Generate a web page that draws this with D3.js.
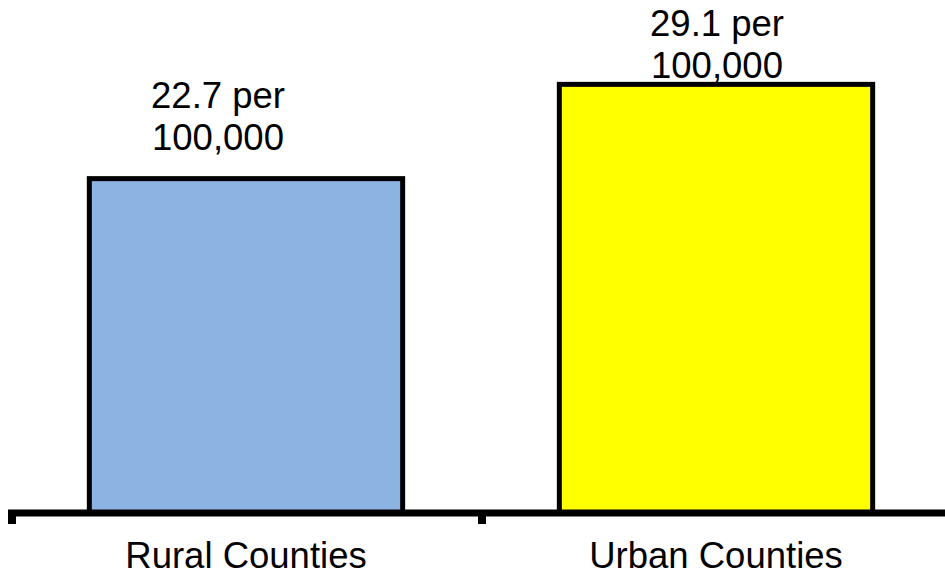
<!DOCTYPE html>
<html>
<head>
<meta charset="utf-8">
<script src="https://cdn.jsdelivr.net/npm/d3@7"></script>
<style>
  html, body { margin: 0; padding: 0; background: #fff; }
  svg { display: block; }
  text { font-family: "Liberation Sans", Arial, sans-serif; fill: #000; }
</style>
</head>
<body>
<script>
// ---- data ----
const categories = ["Rural Counties", "Urban Counties"];
const values = [22.7, 29.1];
const labelLine1 = ["22.7 per", "29.1 per"];
const labelLine2 = ["100,000", "100,000"];
const barColors = ["#8DB3E2", "#FFFF00"];

// ---- layout ----
const W = 945, H = 580;
const baseY = 513;
const labelShiftX = [-29, 0];
const fs = 36.5;

const svg = d3.select("body").append("svg").attr("width", W).attr("height", H);

const x = d3.scaleBand().domain(categories).range([12, 952]).paddingInner(0).paddingOuter(0);
const y = d3.scaleLinear().domain([0, 35]).range([baseY, baseY - 35 * 14.73]);

const barW = x.bandwidth() * 2 / 3;

// bars
svg.selectAll("rect.bar").data(categories).join("rect")
  .attr("class", "bar")
  .attr("x", d => x(d) + x.bandwidth() / 2 - barW / 2 - 1)
  .attr("y", (d, i) => y(values[i]))
  .attr("width", barW)
  .attr("height", (d, i) => y(0) - y(values[i]))
  .attr("fill", (d, i) => barColors[i])
  .attr("stroke", "#000")
  .attr("stroke-width", 5);

// axis line
svg.append("line")
  .attr("x1", 8).attr("x2", W)
  .attr("y1", baseY).attr("y2", baseY)
  .attr("stroke", "#000").attr("stroke-width", 7);

// ticks at band boundaries
const tickPos = categories.map(c => x(c));
svg.selectAll("line.tick").data(tickPos).join("line")
  .attr("class", "tick")
  .attr("x1", d => d).attr("x2", d => d)
  .attr("y1", baseY).attr("y2", baseY + 11)
  .attr("stroke", "#000").attr("stroke-width", 8);

// category labels
svg.selectAll("text.cat").data(categories).join("text")
  .attr("class", "cat")
  .attr("x", d => x(d) + x.bandwidth() / 2 - 1)
  .attr("y", 568)
  .attr("text-anchor", "middle")
  .attr("font-size", fs)
  .text(d => d);

// value labels (pushed down to stay inside the chart area)
const lab = svg.selectAll("g.vlabel").data(categories).join("g").attr("class", "vlabel");
lab.append("text")
  .attr("x", (d, i) => x(d) + x.bandwidth() / 2 + labelShiftX[i])
  .attr("y", (d, i) => Math.max(y(values[i]) - 71, 36))
  .attr("text-anchor", "middle")
  .attr("font-size", fs)
  .text((d, i) => labelLine1[i]);
lab.append("text")
  .attr("x", (d, i) => x(d) + x.bandwidth() / 2 + labelShiftX[i])
  .attr("y", (d, i) => Math.max(y(values[i]) - 71, 36) + 42)
  .attr("text-anchor", "middle")
  .attr("font-size", fs)
  .text((d, i) => labelLine2[i]);
</script>
</body>
</html>
